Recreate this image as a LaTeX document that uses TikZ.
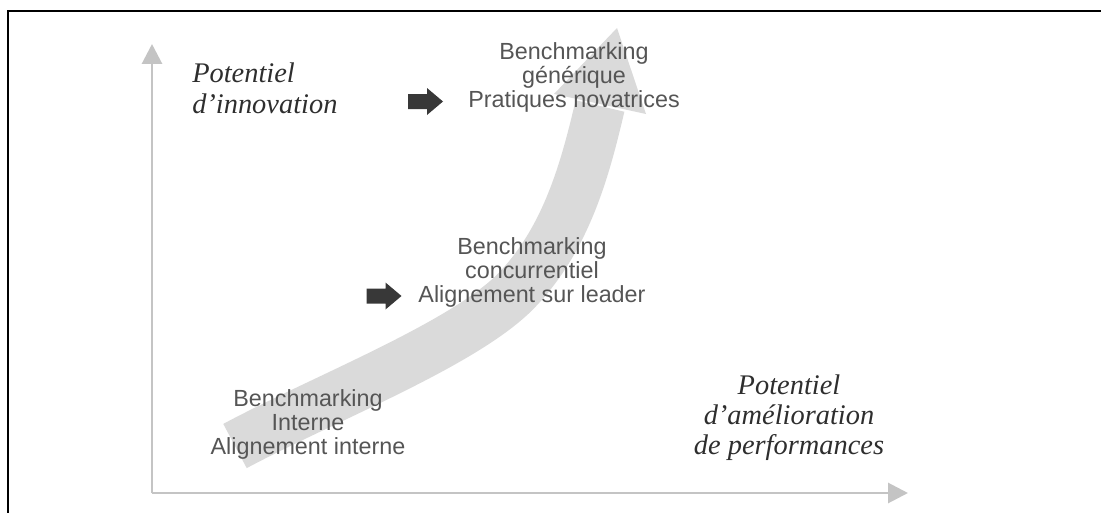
\documentclass[tikz,border=0pt]{standalone}
\usepackage{fontspec}
\setmainfont{Liberation Serif}
\setsansfont{Liberation Sans}
\usetikzlibrary{arrows.meta}
\definecolor{axisgray}{HTML}{C4C4C4}
\definecolor{bandgray}{HTML}{DADADA}
\definecolor{labelgray}{HTML}{555555}
\definecolor{titlegray}{HTML}{2E2E2E}
\definecolor{pointergray}{HTML}{383838}
\tikzset{
  axis/.style={draw=axisgray, line width=2.1pt, -{Triangle[length=14.2pt,width=14.2pt]}},
  stage/.style={font=\sffamily\fontsize{16.6}{17}\selectfont, text=labelgray, anchor=base, inner sep=0pt},
  axislabel/.style={font=\itshape\fontsize{20.2}{21}\selectfont, text=titlegray, anchor=base, inner sep=0pt},
  pics/pointer/.style={code={
    \fill[pointergray] (-17.5,-7.5) -- (1.5,-7.5) -- (1.5,-13.5) -- (17.5,0)
      -- (1.5,13.5) -- (1.5,7.5) -- (-17.5,7.5) -- cycle;}}
}
\begin{document}
\begin{tikzpicture}[x=0.025cm, y=-0.025cm]
\useasboundingbox (0,0) rectangle (1101,513);

% page frame (top and left rules)
\draw[black, line width=1.8pt] (8,513) -- (8,11) -- (1101,11);

% axes
\coordinate (origin) at (152,493);
\coordinate (ytip) at (152,44);
\coordinate (xtip) at (908,493);
\draw[axis] (origin) -- (ytip);
\draw[axis] (origin) -- (xtip);

% broad curved progression arrow
\coordinate (tail) at (235,446);
\coordinate (bend) at (515,292);
\coordinate (headbase) at (600,106);
\coordinate (headtip) at (617,28);
\coordinate (barbL) at (554,94);
\coordinate (barbR) at (646,114);
\draw[bandgray, line width=35.6pt, line cap=butt]
  (tail) .. controls (323,399) and (462,345) .. (bend)
         .. controls (566,240) and (585,170) .. (headbase);
\fill[bandgray] (barbL) -- (headtip) -- (barbR) -- cycle;

% axis titles
\node[axislabel, anchor=base west] (ytitleA) at (192,82) {Potentiel};
\node[axislabel, anchor=base west] (ytitleB) at (192,113) {d'innovation};
\node[axislabel] (xtitleA) at (789,394) {Potentiel};
\node[axislabel] (xtitleB) at (789,424) {d'amélioration};
\node[axislabel] (xtitleC) at (789,454) {de performances};

% stages along the arrow
\node[stage] (genA) at (574,59) {Benchmarking};
\node[stage] (genB) at (574,83) {générique};
\node[stage] (genC) at (574,107) {Pratiques novatrices};

\node[stage] (concA) at (532,254) {Benchmarking};
\node[stage] (concB) at (532,278) {concurrentiel};
\node[stage] (concC) at (532,302) {Alignement sur leader};

\node[stage] (intA) at (308,406) {Benchmarking};
\node[stage] (intB) at (308,430) {Interne};
\node[stage] (intC) at (308,454) {Alignement interne};

% pointers
\pic at (425.5,101.5) {pointer};
\pic at (384,296) {pointer};
\end{tikzpicture}
\end{document}
